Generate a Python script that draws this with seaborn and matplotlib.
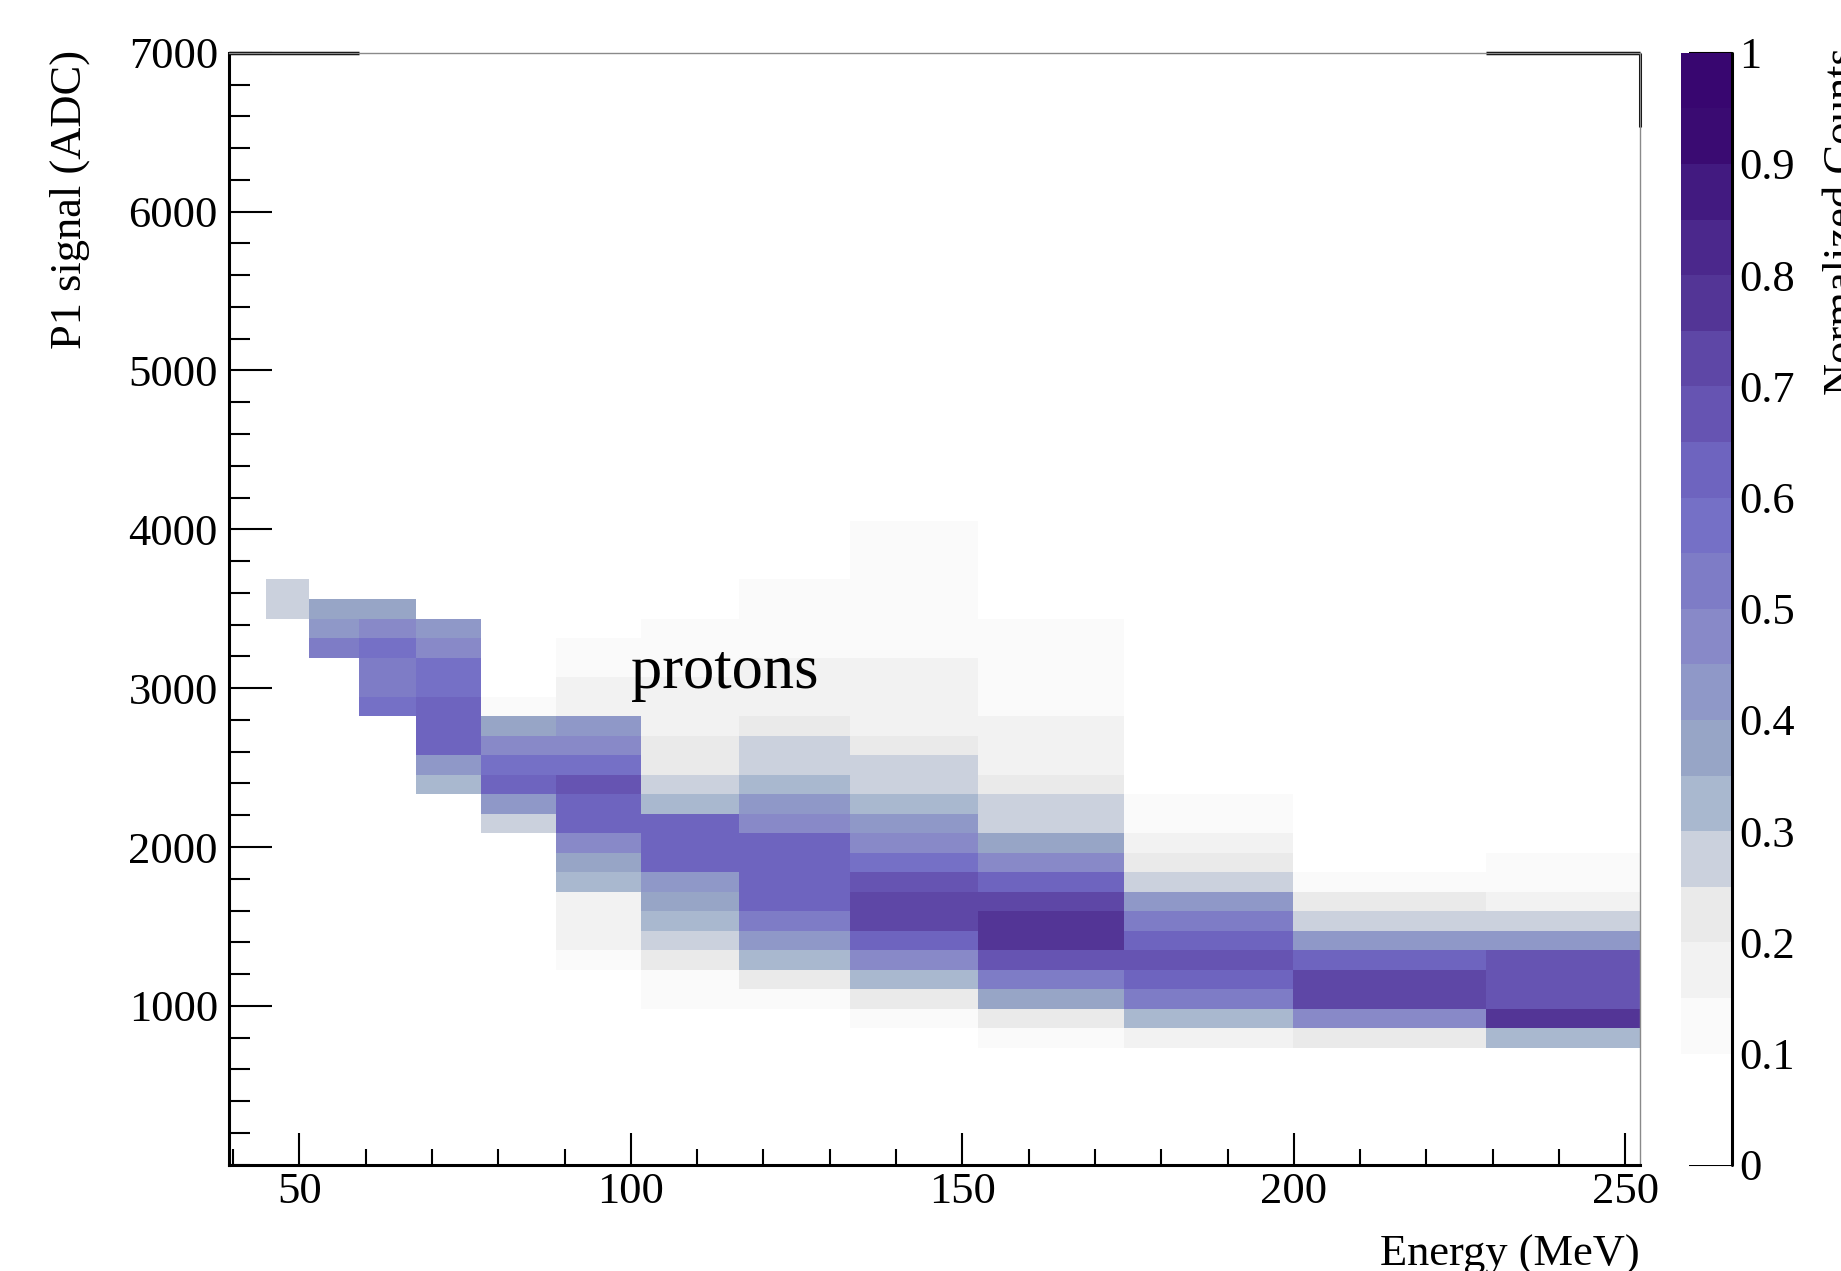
import numpy as np
import matplotlib
matplotlib.use("Agg")
import matplotlib.pyplot as plt
from matplotlib.colors import ListedColormap
from matplotlib.ticker import MultipleLocator, FixedLocator, FuncFormatter
import seaborn as sns

# Energy bins (MeV), variable width
energy_edges = [45.0, 51.5, 59.0, 67.6, 77.4, 88.7, 101.5, 116.3, 133.1,
                152.4, 174.4, 199.9, 228.9, 252.2]
# P1 signal bins: 57 equal bins over 0-7000 ADC
n_adc_bins = 57
adc_max = 7000

# lowest filled ADC bin in each energy column
first_bin = [28, 26, 23, 19, 17, 10, 8, 8, 7, 6, 6, 6, 6]

# normalized counts per energy column, from the lowest filled ADC bin upward
col_counts = [
    [0.27, 0.27],
    [0.52, 0.42, 0.37],
    [0.57, 0.52, 0.52, 0.57, 0.47, 0.37],
    [0.32, 0.42, 0.62, 0.62, 0.62, 0.57, 0.57, 0.47, 0.42],
    [0.27, 0.42, 0.62, 0.57, 0.47, 0.37, 0.12],
    [0.12, 0.17, 0.17, 0.17, 0.32, 0.37, 0.47, 0.62, 0.62, 0.67, 0.57, 0.47,
     0.42, 0.17, 0.17, 0.12, 0.12],
    [0.12, 0.12, 0.22, 0.27, 0.32, 0.37, 0.42, 0.62, 0.62, 0.62, 0.32, 0.27,
     0.22, 0.22, 0.17, 0.17, 0.17, 0.12, 0.12, 0.12],
    [0.12, 0.22, 0.32, 0.42, 0.52, 0.62, 0.62, 0.62, 0.62, 0.47, 0.42, 0.32,
     0.27, 0.27, 0.22, 0.17, 0.17, 0.17, 0.12, 0.12, 0.12, 0.12],
    [0.12, 0.22, 0.32, 0.47, 0.62, 0.72, 0.72, 0.67, 0.57, 0.47, 0.42, 0.32,
     0.27, 0.27, 0.22, 0.17, 0.17, 0.17, 0.17, 0.12, 0.12, 0.12, 0.12, 0.12,
     0.12, 0.12],
    [0.12, 0.22, 0.37, 0.52, 0.67, 0.77, 0.77, 0.72, 0.62, 0.47, 0.37, 0.27,
     0.27, 0.22, 0.17, 0.17, 0.17, 0.12, 0.12, 0.12, 0.12, 0.12],
    [0.17, 0.32, 0.52, 0.62, 0.67, 0.62, 0.52, 0.42, 0.27, 0.22, 0.17, 0.12,
     0.12],
    [0.22, 0.47, 0.72, 0.72, 0.62, 0.42, 0.27, 0.22, 0.12],
    [0.32, 0.77, 0.67, 0.67, 0.67, 0.42, 0.27, 0.17, 0.12, 0.12],
]

# ROOT-like palette, 20 steps of 0.05
palette = ["#ffffff", "#ffffff", "#fafafa", "#f2f2f2", "#eaeaea", "#cbd1dd",
           "#a9b8cf", "#97a5c6", "#8f98c8", "#8889c8", "#7e7cc6", "#7570c6",
           "#6e64bf", "#6654b2", "#5e47a6", "#533596", "#4b288c", "#421a80",
           "#3a0b72", "#380670"]

x_lim = (39.4, 252.2)
y_ticks = [1000, 2000, 3000, 4000, 5000, 6000, 7000]
x_ticks = [50, 100, 150, 200, 250]

# build weighted points at bin centres
adc_edges = np.linspace(0, adc_max, n_adc_bins + 1)
adc_centres = 0.5 * (adc_edges[:-1] + adc_edges[1:])
energy_centres = [0.5 * (a + b) for a, b in zip(energy_edges[:-1], energy_edges[1:])]
xs, ys, ws = [], [], []
for ec, start, vals in zip(energy_centres, first_bin, col_counts):
    for i, v in enumerate(vals):
        xs.append(ec)
        ys.append(adc_centres[start + i])
        ws.append(v)

sns.set_style("ticks")
plt.rcParams['font.family'] = ['Liberation Serif', 'DejaVu Serif']
plt.rcParams['text.color'] = 'black'
plt.rcParams['axes.labelcolor'] = 'black'
plt.rcParams['xtick.color'] = 'black'
plt.rcParams['ytick.color'] = 'black'

W, H = 1841, 1271
fig = plt.figure(figsize=(W / 100, H / 100), dpi=100)
ax = fig.add_axes([229 / W, 1 - 1164.7 / H, 1411 / W, 1111.9 / H])
cax = fig.add_axes([1681 / W, 1 - 1164.7 / H, 51 / W, 1111.9 / H])

sns.histplot(x=xs, y=ys, weights=ws, bins=[energy_edges, adc_edges],
             cmap=ListedColormap(palette), vmin=0, vmax=1, thresh=0,
             cbar=True, cbar_ax=cax, ax=ax)

ax.set_xlim(*x_lim)
ax.set_ylim(0, adc_max)

# axes frame
for side in ["left", "bottom"]:
    ax.spines[side].set_linewidth(2.2)
    ax.spines[side].set_color("black")
for side in ["top", "right"]:
    ax.spines[side].set_visible(True)
    ax.spines[side].set_linewidth(1.0)
    ax.spines[side].set_color("#8a8a8a")
ax.plot([x_lim[0], energy_edges[2]], [adc_max, adc_max], color="black", lw=2.5,
        clip_on=False, solid_capstyle="butt")
ax.plot([energy_edges[12], x_lim[1]], [adc_max, adc_max], color="black", lw=2.5,
        clip_on=False, solid_capstyle="butt")
ax.plot([x_lim[1], x_lim[1]], [6530, adc_max], color="black", lw=2.2,
        clip_on=False, solid_capstyle="butt")

ax.xaxis.set_major_locator(FixedLocator(x_ticks))
ax.xaxis.set_minor_locator(MultipleLocator(10))
ax.yaxis.set_major_locator(FixedLocator(y_ticks))
ax.yaxis.set_minor_locator(MultipleLocator(200))
ax.tick_params(axis="x", which="major", direction="in", length=23, width=1.5,
               labelsize=32, pad=5, top=False, bottom=True)
ax.tick_params(axis="x", which="minor", direction="in", length=11.5, width=1.5,
               top=False, bottom=True)
ax.tick_params(axis="y", which="major", direction="in", length=31, width=1.5,
               labelsize=32, pad=8, right=False, left=True)
ax.tick_params(axis="y", which="minor", direction="in", length=15, width=1.5,
               right=False, left=True)

ax.set_xlabel("Energy (MeV)", fontsize=32, loc="right")
ax.xaxis.set_label_coords(1.0, -0.063)
ax.set_ylabel("")
fig.text(50 / W, 1 - 50 / H, "P1 signal (ADC)", fontsize=32, rotation=90,
         ha="left", va="top")

ax.text(100, 3000, "protons", fontsize=45, ha="left", va="baseline")

# colour bar
cbar = ax.collections[0].colorbar
cbar.outline.set_visible(False)
cbar.set_ticks(np.linspace(0, 1, 11))
cax.yaxis.set_major_formatter(FuncFormatter(lambda v, p: f"{v:g}"))
cax.yaxis.set_minor_locator(FixedLocator([]))
cax.tick_params(axis="y", which="major", direction="in", length=31, width=1.5,
                labelsize=32, pad=5, right=True, left=False)
cax.plot([1, 1], [0, 1], transform=cax.transAxes, color="black", lw=2.2,
         clip_on=False)
fig.text(1823 / W, 1 - 47 / H, "Normalized Counts", fontsize=32, rotation=90,
         ha="left", va="top")

fig.savefig("out.png", dpi=100)
